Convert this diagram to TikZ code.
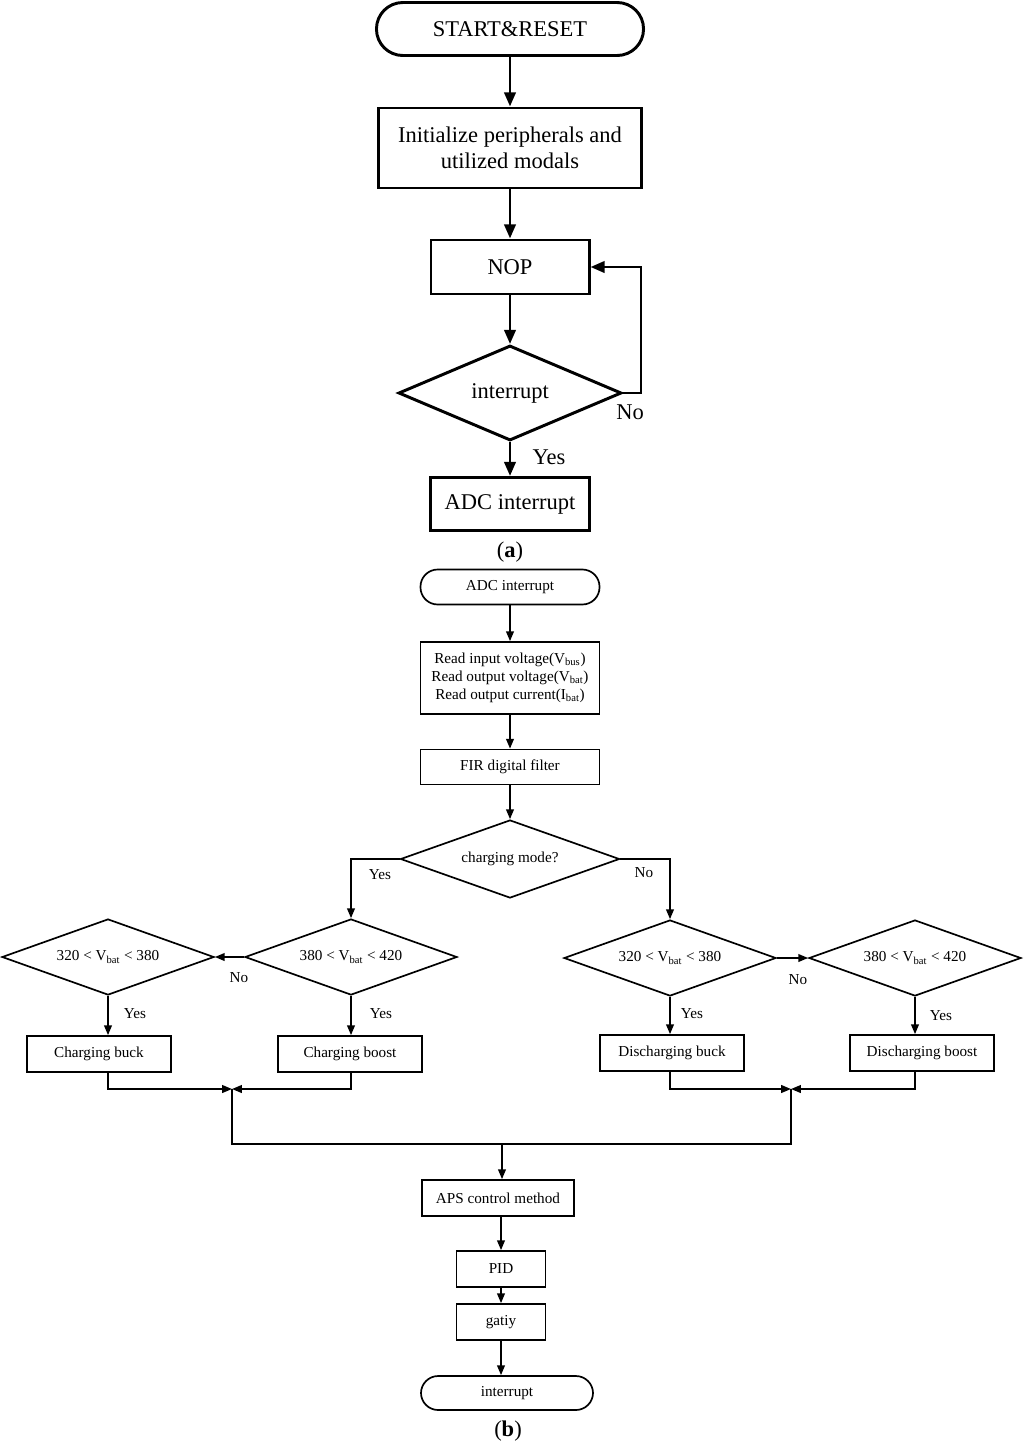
\documentclass[tikz,border=0pt]{standalone}
\usepackage{fontspec}
\setmainfont{Liberation Serif}
\usepackage{tikz}
\usetikzlibrary{shapes}
\usetikzlibrary{arrows.meta,positioning}
\newcommand{\bigfont}{\fontsize{16}{18.5}\selectfont}
\newcommand{\smallfont}{\fontsize{10.8}{12.8}\selectfont}
\tikzset{big node/.style={draw, line width=2.1pt, font=\bigfont, inner sep=0pt, align=center}}
\tikzset{start node/.style={big node, rectangle, rounded corners=0.66cm, minimum height=1.325cm}}
\tikzset{big box/.style={big node, rectangle}}
\tikzset{big decision/.style={big node, diamond, aspect=2.35, minimum width=5.575cm, minimum height=2.375cm}}
\tikzset{small node/.style={draw, line width=1.2pt, font=\smallfont, inner sep=0pt, align=center}}
\tikzset{stop node/.style={small node, rectangle, rounded corners=0.43cm, minimum height=0.875cm}}
\tikzset{small box/.style={small node, rectangle, minimum height=0.9cm}}
\tikzset{small decision/.style={small node, diamond, aspect=2.8, minimum width=5.3cm, minimum height=1.9cm}}
\tikzset{big edge/.style={draw, line width=2.1pt, -{Triangle[length=10pt, width=8pt]}}}
\tikzset{small edge/.style={draw, line width=1.2pt, -{Triangle[length=7pt, width=5.5pt]}}}
\tikzset{small line/.style={draw, line width=1.2pt}}
\tikzset{big label/.style={font=\bigfont, inner sep=0pt}}
\tikzset{small label/.style={font=\smallfont, inner sep=0pt}}

\begin{document}
\begin{tikzpicture}
  [x=0.025cm, y=-0.025cm, auto]
  \useasboundingbox (0, 0) rectangle (1024, 1448);

  % (a) main loop
  \begin{scope}
    \node [start node, minimum width=6.675cm]                       (start) at (510,  29) {START\&RESET};
    \node [big box, minimum width=6.575cm, minimum height=2cm]      (init)  at (510, 148) {Initialize peripherals and\\utilized modals};
    \node [big box, minimum width=3.95cm, minimum height=1.35cm]    (nop)   at (510, 267) {NOP};
    \node [big decision]                                            (intr)  at (510, 393) {interrupt};
    \node [big box, minimum width=3.975cm, minimum height=1.325cm]  (adc)   at (510, 504) {ADC interrupt};
    \coordinate (loop) at (641, 267);
    \node [big label] (intrno)  at (630, 412) {No};
    \node [big label] (intryes) at (549, 457) {Yes};
    \node [big label] (capa)    at (510, 552) {(\textbf{a})};

    \draw [big edge] (start) to (init);
    \draw [big edge] (init)  to (nop);
    \draw [big edge] (nop)   to (intr);
    \draw [big edge] (intr)  to (adc);
    \draw [big edge] (intr.east) -| (loop) -- (nop.east);
  \end{scope}

  % (b) ADC interrupt routine
  \begin{scope}
    \node [stop node, minimum width=4.475cm]                    (adcint) at (510,  587) {ADC interrupt};
    \node [small box, minimum width=4.475cm, minimum height=1.8cm] (read) at (510,  678) {Read input voltage(V\textsubscript{bus})\\Read output voltage(V\textsubscript{bat})\\Read output current(I\textsubscript{bat})};
    \node [small box, minimum width=4.475cm, minimum height=0.875cm] (fir) at (510,  767) {FIR digital filter};
    \node [small decision, minimum width=5.475cm, minimum height=1.95cm] (mode) at (510,  859) {charging mode?};
    \node [small decision]                      (cbuckd)  at (108,  957) {320 < V\textsubscript{bat} < 380};
    \node [small decision]                      (cboostd) at (351,  957) {380 < V\textsubscript{bat} < 420};
    \node [small decision]                      (dbuckd)  at (670,  958) {320 < V\textsubscript{bat} < 380};
    \node [small box, minimum width=3.6cm]      (cbuck)   at ( 99, 1054) {Charging buck};
    \node [small box, minimum width=3.6cm]      (cboost)  at (350, 1054) {Charging boost};
    \node [small decision]                      (dboostd) at (915,  958) {380 < V\textsubscript{bat} < 420};
    \node [small box, minimum width=3.6cm]      (dbuck)   at (672, 1053) {Discharging buck};
    \node [small box, minimum width=3.6cm]      (dboost)  at (922, 1053) {Discharging boost};
    \node [small box, minimum width=3.8cm]      (aps)     at (498, 1198) {APS control method};
    \node [small box, minimum width=2.225cm]    (pid)     at (501, 1269) {PID};
    \node [small box, minimum width=2.225cm]    (gatiy)   at (501, 1322) {gatiy};
    \node [stop node, minimum width=4.3cm, minimum height=0.85cm] (endint) at (507, 1393) {interrupt};
    \coordinate (cmerge) at (232, 1089);
    \coordinate (dmerge) at (791, 1089);
    \coordinate (join)   at (502, 1144);

    \node [small label] (modeyes)   at (380,  875) {Yes};
    \node [small label] (modeno)    at (644,  873) {No};
    \node [small label] (cboostno)  at (239,  978) {No};
    \node [small label] (cbuckyes)  at (135, 1014) {Yes};
    \node [small label] (cboostyes) at (381, 1014) {Yes};
    \node [small label] (dbuckno)   at (798,  980) {No};
    \node [small label] (dbuckyes)  at (692, 1014) {Yes};
    \node [small label] (dboostyes) at (941, 1016) {Yes};
    \node [big label]   (capb)      at (508, 1431) {(\textbf{b})};

    \draw [small edge] (adcint) to (read);
    \draw [small edge] (read)   to (fir);
    \draw [small edge] (fir)    to (mode);
    \draw [small edge] (mode.west) -| (cboostd.north);
    \draw [small edge] (mode.east) -| (dbuckd.north);
    \draw [small edge] (cboostd.west) to (cbuckd.east);
    \draw [small edge] (dbuckd.east)  to (dboostd.west);
    \draw [small edge] (cbuckd.south)  to (cbuckd.south |- cbuck.north);
    \draw [small edge] (cboostd.south) to (cboostd.south |- cboost.north);
    \draw [small edge] (dbuckd.south)  to (dbuckd.south |- dbuck.north);
    \draw [small edge] (dboostd.south) to (dboostd.south |- dboost.north);
    \draw [small edge] (cbuckd.south |- cbuck.south)   |- (cmerge);
    \draw [small edge] (cboostd.south |- cboost.south) |- (cmerge);
    \draw [small edge] (dbuckd.south |- dbuck.south)   |- (dmerge);
    \draw [small edge] (dboostd.south |- dboost.south) |- (dmerge);
    \draw [small line] (cmerge) -- (cmerge |- join) -- (dmerge |- join) -- (dmerge);
    \draw [small edge] (join) to (join |- aps.north);
    \draw [small edge] (pid.north |- aps.south) to (pid.north);
    \draw [small edge] (pid)   to (gatiy);
    \draw [small edge] (gatiy.south) to (gatiy.south |- endint.north);
  \end{scope}
\end{tikzpicture}
\end{document}
